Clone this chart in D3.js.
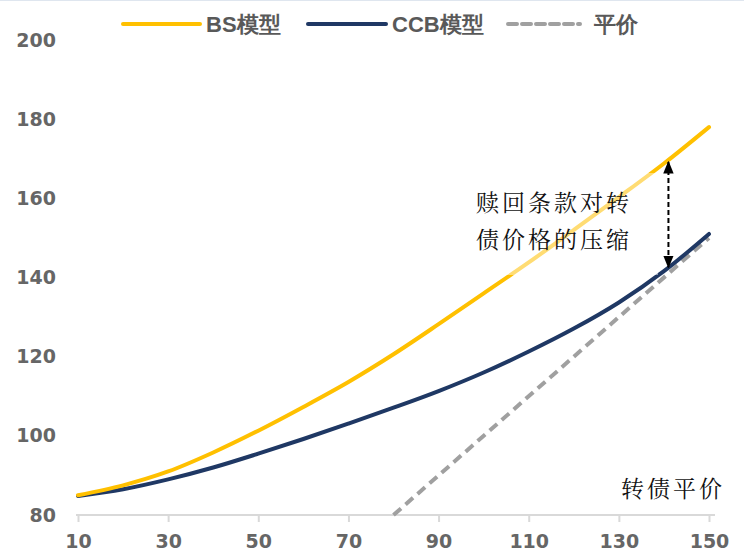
<!DOCTYPE html>
<html><head><meta charset="utf-8">
<script src="https://cdn.jsdelivr.net/npm/d3@7"></script>
<style>
html,body{margin:0;padding:0;background:#fff;}
svg{display:block;}
</style></head>
<body>
<svg id="chart" width="744" height="558"></svg>
<script>
const xValues = [10,20,30,40,50,60,70,80,90,100,110,120,130,140,150];
const bsValues = [85,87.5,91,95.8,101.3,107.3,113.6,120.6,128.2,136,143.8,152,160.3,168.8,178];
const ccbValues = [84.8,86.5,89,92,95.5,99.2,103.1,107.1,111.3,116,121.3,127.1,133.7,141.6,151];
const parityX = [80,150];
const parityY = [80,150];
const xTicks = [10,30,50,70,90,110,130,150];
const yTicks = [80,100,120,140,160,180,200];
const seriesNames = ["BS模型","CCB模型","平价"];
const annotationLines = ["赎回条款对转","债价格的压缩"];
const xAxisNote = "转债平价";
const arrowX = 141, arrowTop = 169.2, arrowBottom = 142.6;

const svg = d3.select("#chart");
const x = d3.scaleLinear().domain([10,150]).range([78,709]);
const y = d3.scaleLinear().domain([80,200]).range([515,40]);

svg.append("line").attr("x1",0).attr("x2",744).attr("y1",0.5).attr("y2",0.5).attr("stroke","#dfe6ef").attr("stroke-width",1);

// x axis
const xAxis = d3.axisBottom(x).tickValues(xTicks).tickSize(7).tickPadding(13).tickFormat(d3.format("d"));
const gx = svg.append("g").attr("transform",`translate(0,${y(80)})`).call(xAxis);
gx.select(".domain").attr("d",`M${x(10)-2},0H${x(150)+6}`).attr("stroke","#d9d9d9").attr("stroke-width",2);
gx.selectAll(".tick line").attr("stroke","#d9d9d9").attr("stroke-width",2);
gx.selectAll(".tick text").attr("fill","#666").attr("font-family","DejaVu Sans, Verdana, sans-serif")
  .attr("font-weight","bold").attr("font-size","19px");

// y axis (labels only)
const yAxis = d3.axisLeft(y).tickValues(yTicks).tickSize(0).tickPadding(0).tickFormat(d3.format("d"));
const gy = svg.append("g").attr("transform","translate(56,0)").call(yAxis);
gy.select(".domain").remove();
gy.selectAll(".tick text").attr("fill","#666").attr("font-family","DejaVu Sans, Verdana, sans-serif")
  .attr("font-weight","bold").attr("font-size","19px");

const line = d3.line().x(d=>x(d[0])).y(d=>y(d[1])).curve(d3.curveMonotoneX);

// parity dashed
svg.append("path").datum(parityX.map((v,i)=>[v,parityY[i]]))
  .attr("d",d3.line().x(d=>x(d[0])).y(d=>y(d[1])))
  .attr("fill","none").attr("stroke","#a0a0a0").attr("stroke-width",4)
  .attr("stroke-dasharray","10,6");

svg.append("path").datum(xValues.map((v,i)=>[v,ccbValues[i]]))
  .attr("d",line).attr("fill","none").attr("stroke","#1f3864").attr("stroke-width",4).attr("stroke-linecap","round");

svg.append("path").datum(xValues.map((v,i)=>[v,bsValues[i]]))
  .attr("d",line).attr("fill","none").attr("stroke","#ffc000").attr("stroke-width",4).attr("stroke-linecap","round");

// annotation box (semi-transparent)
svg.append("rect").attr("x",462).attr("y",173).attr("width",196).attr("height",102)
  .attr("fill","#fff").attr("fill-opacity",0.45);

// arrow
const defs = svg.append("defs");
defs.append("marker").attr("id","ah").attr("viewBox","0 0 10 10").attr("refX",9).attr("refY",5)
  .attr("orient","auto-start-reverse").attr("markerUnits","userSpaceOnUse")
  .attr("markerWidth",13).attr("markerHeight",13)
  .append("path").attr("d","M0,1L10,5L0,9Z").attr("fill","#000");
svg.append("line").attr("x1",x(arrowX)).attr("x2",x(arrowX)).attr("y1",y(arrowTop)).attr("y2",y(arrowBottom))
  .attr("stroke","#000").attr("stroke-width",2).attr("stroke-dasharray","5,3")
  .attr("marker-start","url(#ah)").attr("marker-end","url(#ah)");

const serifCJK = "'Noto Serif CJK SC','Noto Sans CJK SC',serif";
annotationLines.forEach((t,i)=>{
  svg.append("text").attr("x",476).attr("y",211+i*37).text(t)
    .attr("font-family",serifCJK).attr("font-size","23px").attr("fill","#111")
    .attr("letter-spacing","3px");
});
svg.append("text").attr("x",621).attr("y",497).text(xAxisNote)
  .attr("font-family",serifCJK).attr("font-size","23px").attr("fill","#111")
  .attr("letter-spacing","3px");

// legend
const legendFont = "'Liberation Sans Narrow','Arial Narrow','Liberation Sans',sans-serif";
const leg = [
  {x1:123,x2:200,color:"#ffc000",dash:null,tx:206,name:seriesNames[0]},
  {x1:308,x2:386,color:"#1f3864",dash:null,tx:392,name:seriesNames[1]},
  {x1:508,x2:580,color:"#a0a0a0",dash:"9,5",tx:594,name:seriesNames[2]}
];
leg.forEach(l=>{
  svg.append("line").attr("x1",l.x1).attr("x2",l.x2).attr("y1",24).attr("y2",24)
    .attr("stroke",l.color).attr("stroke-width",4).attr("stroke-linecap","round")
    .attr("stroke-dasharray",l.dash);
  svg.append("text").attr("x",l.tx).attr("y",32).text(l.name)
    .attr("font-family",legendFont).attr("font-weight","bold").attr("font-size","22px").attr("fill","#595959");
});
</script>
</body></html>
